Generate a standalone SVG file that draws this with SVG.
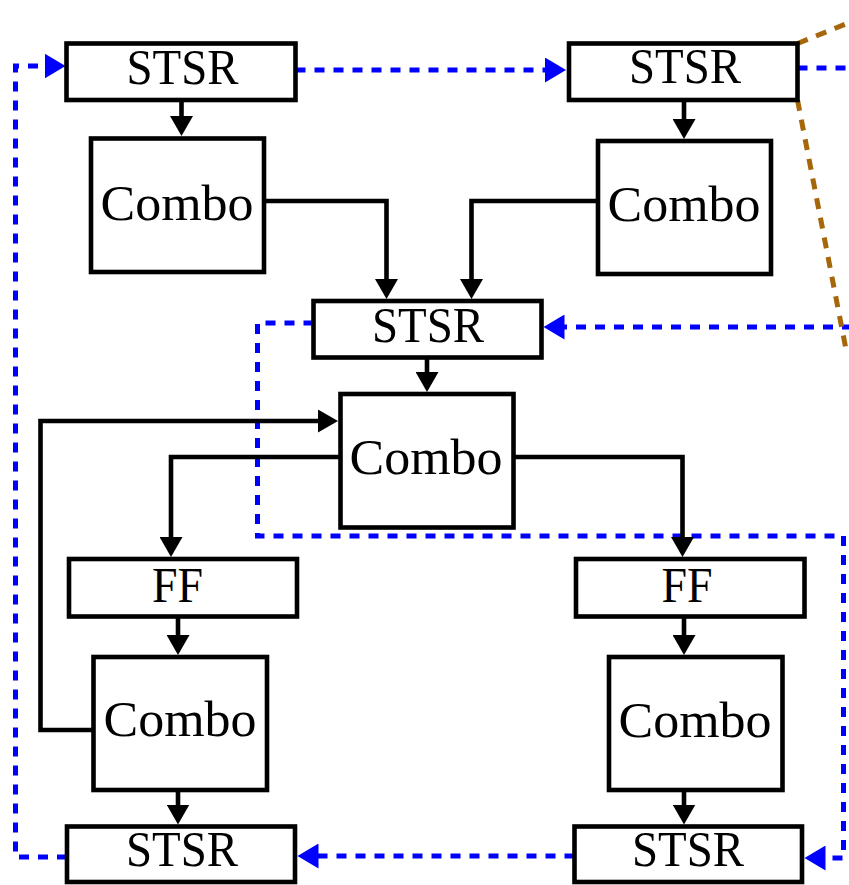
<svg xmlns="http://www.w3.org/2000/svg" width="849" height="885" viewBox="0 0 849 885">
  <style>
    .box { fill: #ffffff; stroke: #000000; stroke-width: 4.6; }
    .lbl { font-family: "Liberation Serif", "Times New Roman", serif; font-size: 50px; fill: #000000; text-anchor: middle; }
    .wire { fill: none; stroke: #000000; stroke-width: 4.6; }
    .scan { fill: none; stroke: #0000ff; stroke-width: 5; stroke-dasharray: 10 9; }
    .zoom { fill: none; stroke: #a6660a; stroke-width: 5; stroke-dasharray: 11 9; }
  </style>
  <defs>
    <marker id="arrowBlack" markerUnits="userSpaceOnUse" markerWidth="22" markerHeight="23" refX="2" refY="11.5" orient="auto">
      <path d="M0,0 L20,11.5 L0,23 z" fill="#000000"/>
    </marker>
    <marker id="arrowBlue" markerUnits="userSpaceOnUse" markerWidth="23" markerHeight="25" refX="2" refY="12.5" orient="auto">
      <path d="M0,0 L21,12.5 L0,25 z" fill="#0000ff"/>
    </marker>
  </defs>

  <rect width="849" height="885" fill="#ffffff"/>

  <!-- scan chain (dotted) and zoom guides -->
  <g id="connectors-scan">
    <path class="scan" d="M67,857 H15.5 V66 H46.5" marker-end="url(#arrowBlue)"/>
    <path class="scan" d="M295.5,70 H547" marker-end="url(#arrowBlue)"/>
    <path class="scan" d="M797.5,68 H852"/>
    <path class="scan" d="M852,327 H562.5" marker-end="url(#arrowBlue)"/>
    <path class="scan" d="M313.5,323 H257.5 V536 H843.5 V858 H823.5" marker-end="url(#arrowBlue)"/>
    <path class="scan" d="M574.5,856 H316.5" marker-end="url(#arrowBlue)"/>
    <path class="zoom" d="M797.5,43.5 L852,21.5"/>
    <path class="zoom" d="M797.5,100 L846.5,352"/>
  </g>

  <!-- data paths -->
  <g id="connectors">
    <path class="wire" d="M181.5,100 V118" marker-end="url(#arrowBlack)"/>
    <path class="wire" d="M684,100 V121" marker-end="url(#arrowBlack)"/>
    <path class="wire" d="M264,201 H386.5 V281" marker-end="url(#arrowBlack)"/>
    <path class="wire" d="M598,201 H471.5 V281" marker-end="url(#arrowBlack)"/>
    <path class="wire" d="M427,357 V374" marker-end="url(#arrowBlack)"/>
    <path class="wire" d="M340.5,457 H171 V539" marker-end="url(#arrowBlack)"/>
    <path class="wire" d="M513.5,457 H682.5 V539" marker-end="url(#arrowBlack)"/>
    <path class="wire" d="M178,616.5 V637" marker-end="url(#arrowBlack)"/>
    <path class="wire" d="M684,616.5 V637" marker-end="url(#arrowBlack)"/>
    <path class="wire" d="M178,790 V806.5" marker-end="url(#arrowBlack)"/>
    <path class="wire" d="M684,790 V806.5" marker-end="url(#arrowBlack)"/>
    <path class="wire" d="M93.5,730 H40.5 V421 H320" marker-end="url(#arrowBlack)"/>
  </g>

  <!-- nodes -->
  <g id="stsr1">
    <rect class="box" x="66.5" y="43.5" width="229" height="56.5"/>
    <text class="lbl" x="182.5" y="83.5" textLength="112" lengthAdjust="spacingAndGlyphs">STSR</text>
  </g>
  <g id="stsr2">
    <rect class="box" x="569" y="43.5" width="228.5" height="56.5"/>
    <text class="lbl" x="685" y="83" textLength="112" lengthAdjust="spacingAndGlyphs">STSR</text>
  </g>
  <g id="combo1">
    <rect class="box" x="91" y="138.5" width="173" height="133.5"/>
    <text class="lbl" x="177" y="220" textLength="153" lengthAdjust="spacingAndGlyphs">Combo</text>
  </g>
  <g id="combo2">
    <rect class="box" x="598" y="141" width="173" height="133"/>
    <text class="lbl" x="684" y="221" textLength="153" lengthAdjust="spacingAndGlyphs">Combo</text>
  </g>
  <g id="stsr3">
    <rect class="box" x="313.5" y="301" width="228" height="56.5"/>
    <text class="lbl" x="428" y="341.5" textLength="112" lengthAdjust="spacingAndGlyphs">STSR</text>
  </g>
  <g id="combo3">
    <rect class="box" x="340.5" y="394" width="173" height="133.5"/>
    <text class="lbl" x="426" y="474" textLength="153" lengthAdjust="spacingAndGlyphs">Combo</text>
  </g>
  <g id="ff1">
    <rect class="box" x="69" y="559" width="228" height="57.5"/>
    <text class="lbl" x="177.5" y="601.5" textLength="51" lengthAdjust="spacingAndGlyphs">FF</text>
  </g>
  <g id="ff2">
    <rect class="box" x="576" y="559" width="228.5" height="57.5"/>
    <text class="lbl" x="687" y="601.5" textLength="51" lengthAdjust="spacingAndGlyphs">FF</text>
  </g>
  <g id="combo4">
    <rect class="box" x="93.5" y="657" width="173.5" height="133"/>
    <text class="lbl" x="180" y="735.5" textLength="153" lengthAdjust="spacingAndGlyphs">Combo</text>
  </g>
  <g id="combo5">
    <rect class="box" x="609" y="657" width="173.5" height="133"/>
    <text class="lbl" x="695" y="736.5" textLength="153" lengthAdjust="spacingAndGlyphs">Combo</text>
  </g>
  <g id="stsr4">
    <rect class="box" x="67" y="826.5" width="228" height="55.5"/>
    <text class="lbl" x="182" y="865.5" textLength="112" lengthAdjust="spacingAndGlyphs">STSR</text>
  </g>
  <g id="stsr5">
    <rect class="box" x="574.5" y="826.5" width="227.5" height="55.5"/>
    <text class="lbl" x="688" y="865.5" textLength="112" lengthAdjust="spacingAndGlyphs">STSR</text>
  </g>
</svg>
